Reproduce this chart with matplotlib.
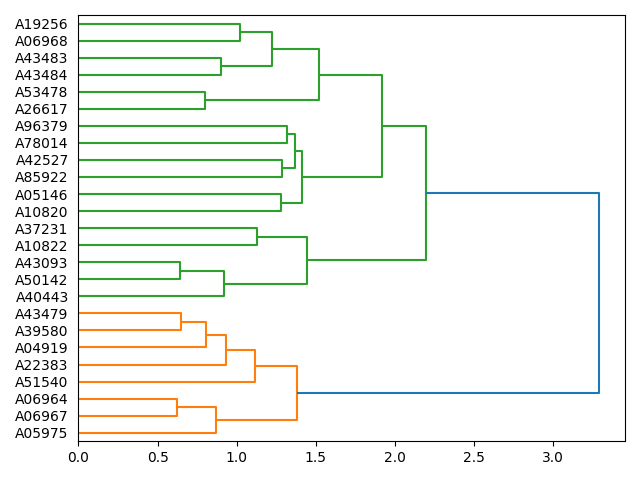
import matplotlib
matplotlib.use("Agg")
import matplotlib.pyplot as plt
from matplotlib.collections import LineCollection

# Leaf labels, bottom to top
labels = ["A05975", "A06967", "A06964", "A51540", "A22383", "A04919", "A39580",
          "A43479", "A40443", "A50142", "A43093", "A10822", "A37231", "A10820",
          "A05146", "A85922", "A42527", "A78014", "A96379", "A26617", "A53478",
          "A43484", "A43483", "A06968", "A19256"]

# Merges: new node ids start at len(labels)
left_child = [1, 6, 9, 19, 0, 5, 21, 8, 4, 23, 3, 11, 31, 13, 15, 17, 39, 29, 38, 32, 28, 43, 44, 42]
right_child = [2, 7, 10, 20, 25, 26, 22, 27, 30, 24, 33, 12, 34, 14, 16, 18, 40, 35, 41, 36, 37, 45, 46, 47]
heights = [0.625, 0.650, 0.644, 0.802, 0.872, 0.808, 0.903, 0.922, 0.935, 1.019,
           1.114, 1.125, 1.220, 1.277, 1.289, 1.315, 1.369, 1.378, 1.410, 1.445,
           1.523, 1.916, 2.194, 3.289]

n = len(labels)
root = n + len(heights) - 1
threshold = 0.7 * max(heights)
palette = ["C1", "C2", "C3", "C4", "C5", "C6", "C7", "C8", "C9"]
above_color = "C0"

pos = {}
segments = []
colors = []
cluster_counter = [0]


def place(node, color):
    if node < n:
        pos[node] = (5 + 10 * node, 0.0)
        return pos[node]
    k = node - n
    h = heights[k]
    if h < threshold and color is None:
        color = palette[cluster_counter[0] % len(palette)]
        cluster_counter[0] += 1
    c = color if h < threshold else above_color
    yl, hl = place(left_child[k], color if h < threshold else None)
    yr, hr = place(right_child[k], color if h < threshold else None)
    segments.append([(hl, yl), (h, yl), (h, yr), (hr, yr)])
    colors.append(c)
    pos[node] = ((yl + yr) / 2.0, h)
    return pos[node]


place(root, None)

fig, ax = plt.subplots(figsize=(6.4, 4.8), dpi=100)
lc = LineCollection(segments, colors=colors, linewidths=1.5)
ax.add_collection(lc)
ax.set_xlim(0, max(heights) * 1.05)
ax.set_ylim(0, 10 * n)
ax.set_yticks([5 + 10 * i for i in range(n)])
ax.set_yticklabels(labels)
for line in ax.get_yticklines():
    line.set_visible(False)
fig.tight_layout()
fig.savefig("out.png")
